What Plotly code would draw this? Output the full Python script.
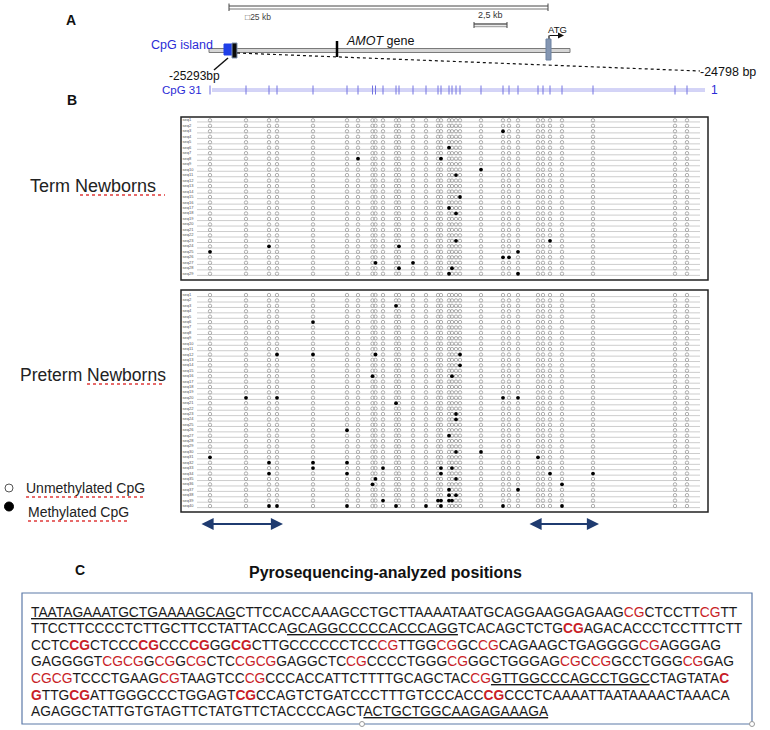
import plotly.graph_objects as go

W, H = 770, 730

# ---------------- data ----------------
# estimated CpG positions (bp, relative to first analysed CpG) in the bisulfite amplicon
CPG_POS = [0, 36, 59, 67, 103, 137, 148, 162.5, 165.5, 173, 186, 189, 203, 216, 228, 231,
           239, 242, 246, 250, 271, 293, 299, 308, 328, 333, 340, 352, 383, 465, 477]
TERM_ROWS = [f"seq{i}" for i in range(1, 30)]
PRETERM_ROWS = [f"seq{i}" for i in range(1, 41)]
# methylated CpGs: row number -> list of CpG indices (1-based)
TERM_METHYLATED = {3: [22], 6: [17], 8: [7, 16], 10: [21], 11: [19], 15: [20], 17: [17],
                   18: [19], 23: [19, 27], 24: [3, 12], 25: [1, 24], 26: [22, 23],
                   27: [9, 13], 28: [12, 18], 29: [17, 24]}
PRETERM_METHYLATED = {3: [11], 6: [5], 12: [4, 5, 9, 20], 14: [20], 16: [8, 18],
                      20: [2, 4, 22, 24], 21: [11], 23: [19], 24: [19], 26: [6], 27: [17],
                      30: [19, 21], 31: [1, 25], 32: [3, 5, 6], 33: [5, 10, 16, 18],
                      34: [3, 6, 16, 27, 29], 35: [9, 19], 36: [8, 28], 37: [17, 24],
                      38: [17, 19], 39: [10, 15, 16, 17, 18],
                      40: [3, 4, 6, 11, 14, 16, 22, 28]}
# pyrosequencing-analyzed CpG ranges (1-based CpG indices)
PYRO_RANGES = [(1, 4), (25, 29)]

SEQ_LINES = [
    "<u>TAATAGAAATGCTGAAAAGCAG</u>CTTCCACCAAAGCCTGCTTAAAATAATGCAGGAAGGAGAAG{r}CTCCTT{r}TT",
    "TTCCTTCCCCTCTTGCTTCCTATTACCA<u>GCAGGCCCCCACCCAGG</u>TCACAGCTCTG{R}AGACACCCTCCTTTCTT",
    "CCTC{R}CTCCC{R}CCC{R}GG{R}CTTGCCCCCCTCC{r}TTGG{r}GC{r}CAGAAGCTGAGGGG{r}AGGGAG",
    "GAGGGGT{r}{r}G{r}G{r}CTC{r}{r}GAGGCTC{r}CCCCTGGG{r}GGCTGGGAG{r}C{r}GCCTGGG{r}GAG",
    "{r}{r}TCCCTGAAG{r}TAAGTCC{r}CCCACCATTCTTTTGCAGCTAC{r}<u>GTTGGCCCAGCCTGGC</u>CTAGTATA{RC}",
    "{RG}TTG{R}ATTGGGCCCTGGAGT{R}CCAGTCTGATCCCTTTGTCCCACC{R}CCCTCAAAATTAATAAAACTAAACA",
    "AGAGGCTATTGTGTAGTTCTATGTTCTACCCCAGCT<u>ACTGCTGGCAAGAGAAAGA</u>",
]

RED = "#c81e28"
BLUE = "#2b2bd6"
FONT = "Arial, Liberation Sans, sans-serif"


def X(px):
    return px / W


def Y(py):
    return 1 - py / H


fig = go.Figure()
shapes = []
ann = []

ORIGIN = 210  # pixel column of first CpG (layout only)
XR = [181 - ORIGIN, 708 - ORIGIN]

grids = [
    dict(rows=TERM_ROWS, meth=TERM_METHYLATED, xa="x", ya="y",
         box=(181, 117, 708, 280), first=120.3, step=5.48),
    dict(rows=PRETERM_ROWS, meth=PRETERM_METHYLATED, xa="x2", ya="y2",
         box=(181, 290, 708, 512), first=295.0, step=5.41),
]

for i, g in enumerate(grids):
    x0, y0, x1, y1 = g["box"]
    top = 1 - (g["first"] - y0) / g["step"]
    bot = 1 + (y1 - g["first"]) / g["step"]
    n = len(g["rows"])
    lx, ly = [], []
    for r in range(1, n + 1):
        lx += [-13, 490, None]
        ly += [r + 0.3, r + 0.3, None]
    fig.add_trace(go.Scatter(x=lx, y=ly, mode="lines", xaxis=g["xa"], yaxis=g["ya"],
                             line=dict(color="#cdcdcd", width=1), hoverinfo="skip",
                             showlegend=False))
    ux, uy, mx, my = [], [], [], []
    for r in range(1, n + 1):
        mcols = g["meth"].get(r, [])
        for c, p in enumerate(CPG_POS, start=1):
            if c in mcols:
                mx.append(p)
                my.append(r)
            else:
                ux.append(p)
                uy.append(r)
    fig.add_trace(go.Scatter(x=ux, y=uy, mode="markers", xaxis=g["xa"], yaxis=g["ya"],
                             marker=dict(symbol="circle-open", size=3.4, color="#9a9a9a",
                                         line=dict(color="#9a9a9a", width=0.8)),
                             hoverinfo="skip", showlegend=False))
    fig.add_trace(go.Scatter(x=mx, y=my, mode="markers", xaxis=g["xa"], yaxis=g["ya"],
                             marker=dict(symbol="circle", size=3.8, color="#000000"),
                             hoverinfo="skip", showlegend=False))
    fig.add_trace(go.Scatter(x=[XR[0] + 1.5] * n, y=list(range(1, n + 1)), mode="text",
                             text=g["rows"], textposition="middle right",
                             textfont=dict(size=4, color="#555", family=FONT),
                             xaxis=g["xa"], yaxis=g["ya"], hoverinfo="skip",
                             showlegend=False))
    sfx = "" if i == 0 else "2"
    fig.layout["xaxis" + sfx] = dict(domain=[X(x0), X(x1)], range=XR, visible=False,
                                     fixedrange=True)
    fig.layout["yaxis" + sfx] = dict(domain=[Y(y1), Y(y0)], range=[bot, top],
                                     visible=False, fixedrange=True)
    shapes.append(dict(type="rect", xref="paper", yref="paper", x0=X(x0), x1=X(x1),
                       y0=Y(y0), y1=Y(y1), line=dict(color="#222", width=1.5)))


def line(px0, py0, px1, py1, color="#000", width=1, dash=None):
    d = dict(type="line", xref="paper", yref="paper", x0=X(px0), y0=Y(py0),
             x1=X(px1), y1=Y(py1), line=dict(color=color, width=width))
    if dash:
        d["line"]["dash"] = dash
    shapes.append(d)


def rect(px0, py0, px1, py1, fill, color, width=1):
    shapes.append(dict(type="rect", xref="paper", yref="paper", x0=X(px0), y0=Y(py0),
                       x1=X(px1), y1=Y(py1), fillcolor=fill,
                       line=dict(color=color, width=width)))


def text(s, px, py, size=12, color="#111", xanchor="left", bold=False):
    ann.append(dict(text=f"<b>{s}</b>" if bold else s, x=X(px), y=Y(py), xref="paper",
                    yref="paper", showarrow=False, xanchor=xanchor, yanchor="middle",
                    borderpad=0, font=dict(size=size, color=color, family=FONT)))


# ---------------- panel A ----------------
line(229, 6, 548, 6, "#444", 1)
line(229, 9, 548, 9, "#777", 1)
line(229, 3.5, 229, 11, "#444", 1)
line(548, 3.5, 548, 11, "#444", 1)
text("\u25a125 kb", 244, 17, 8.5, "#444")
line(474, 24, 507, 24, "#111", 1.2)
line(474, 26.5, 507, 26.5, "#aaa", 1.5)
line(474, 22, 474, 28, "#444", 1)
line(507, 22, 507, 28, "#444", 1)
text("2,5 kb", 477, 15.5, 9, "#333")
text("ATG", 557, 30, 9.5, "#111", "center")
line(549, 40, 549, 35.5, "#111", 1.2)
ann.append(dict(x=X(564), y=Y(35.5), xref="paper", yref="paper", ax=-16, ay=0,
                showarrow=True, arrowhead=2, arrowsize=1, arrowwidth=1.2,
                arrowcolor="#111", text=""))
rect(209, 48.5, 570, 52.5, "#d6d6d6", "#7a7a7a", 1)
rect(224, 44, 232, 55, "#1f3fe8", "#1f3fe8", 1)
rect(232, 43, 237, 58, "#0a0a0a", "#8094b4", 1)
line(337, 41, 337, 57, "#000", 2.5)
rect(546, 39, 551, 60, "#8496b2", "#6d82a2", 1)
text("CpG island", 214, 45, 12.5, BLUE, "right")
text("<i>AMOT</i> gene", 345, 41, 12.5, "#111")
line(237, 53, 700, 71, "#111", 1.2, "dot")
line(228, 58, 214, 70, "#111", 1.5)
text("-24798 bp", 699, 72, 12.5, "#111")
text("-25293bp", 195, 76, 12, "#111", "center")
text("CpG 31", 203, 90, 11.5, BLUE, "right")
line(212, 89, 705, 89, "#a8a8ee", 1)
line(212, 91, 705, 91, "#a8a8ee", 1)
for p in CPG_POS:
    shapes.append(dict(type="line", xref="x", yref="paper", x0=p, x1=p, y0=Y(85.5),
                       y1=Y(94.5), line=dict(color="#7272e0", width=1)))
text("1", 710, 90, 12, BLUE)

text("A", 71, 20, 14, "#111", "center", True)
text("B", 72, 100, 14, "#111", "center", True)
text("C", 80, 570, 14, "#111", "center", True)

# ---------------- side labels / legend ----------------
text("Term Newborns", 29, 186, 18, "#222")
text("Preterm Newborns", 19, 375, 17.5, "#222")
line(80, 195, 165, 195, "#e03a3a", 1.3, "dot")
line(87, 384, 165, 384, "#e03a3a", 1.3, "dot")

shapes.append(dict(type="circle", xref="paper", yref="paper", x0=X(5), x1=X(13),
                   y0=Y(484), y1=Y(492), line=dict(color="#555", width=1),
                   fillcolor="white"))
shapes.append(dict(type="circle", xref="paper", yref="paper", x0=X(4.5), x1=X(13.5),
                   y0=Y(502), y1=Y(511), line=dict(color="#000", width=1),
                   fillcolor="#000"))
text("Unmethylated CpG", 25, 488, 14, "#222")
text("Methylated CpG", 27, 512, 14, "#222")
line(26, 497, 143, 497, "#e03a3a", 1.3, "dot")
line(28, 521, 128, 521, "#e03a3a", 1.3, "dot")

for a, b in PYRO_RANGES:
    ann.append(dict(x=CPG_POS[b - 1] + 6, y=Y(524), xref="x2", yref="paper",
                    ax=CPG_POS[a - 1] - 10, ay=0, axref="x2", ayref="pixel",
                    showarrow=True, arrowhead=2, arrowside="end+start", arrowsize=1.1,
                    arrowwidth=2.2, arrowcolor="#1f3b70", text=""))

# ---------------- panel C ----------------
text("Pyrosequencing-analyzed positions", 386, 572, 16, "#111", "center", True)
rect(22, 593, 752, 724, "rgba(0,0,0,0)", "#5d7aa8", 1.2)
for hx in (362, 752):
    shapes.append(dict(type="circle", xref="paper", yref="paper", x0=X(hx - 2.5),
                       x1=X(hx + 2.5), y0=Y(721.5), y1=Y(726.5),
                       line=dict(color="#999", width=1), fillcolor="white"))

reps = {
    "{r}": f"<span style='color:{RED}'>CG</span>",
    "{R}": f"<b><span style='color:{RED}'>CG</span></b>",
    "{RC}": f"<b><span style='color:{RED}'>C</span></b>",
    "{RG}": f"<b><span style='color:{RED}'>G</span></b>",
}
for i, s in enumerate(SEQ_LINES):
    for k, v in reps.items():
        s = s.replace(k, v)
    text(s, 30, 612 + 16.6 * i, 13.8, "#1a1a1a")

fig.update_layout(width=W, height=H, margin=dict(l=0, r=0, t=0, b=0),
                  paper_bgcolor="white", plot_bgcolor="white",
                  shapes=shapes, annotations=ann, showlegend=False)

fig.write_html("out.html", config={"displayModeBar": False},
               post_script="document.body.style.margin='0';"
                           "document.body.style.overflow='hidden';")
